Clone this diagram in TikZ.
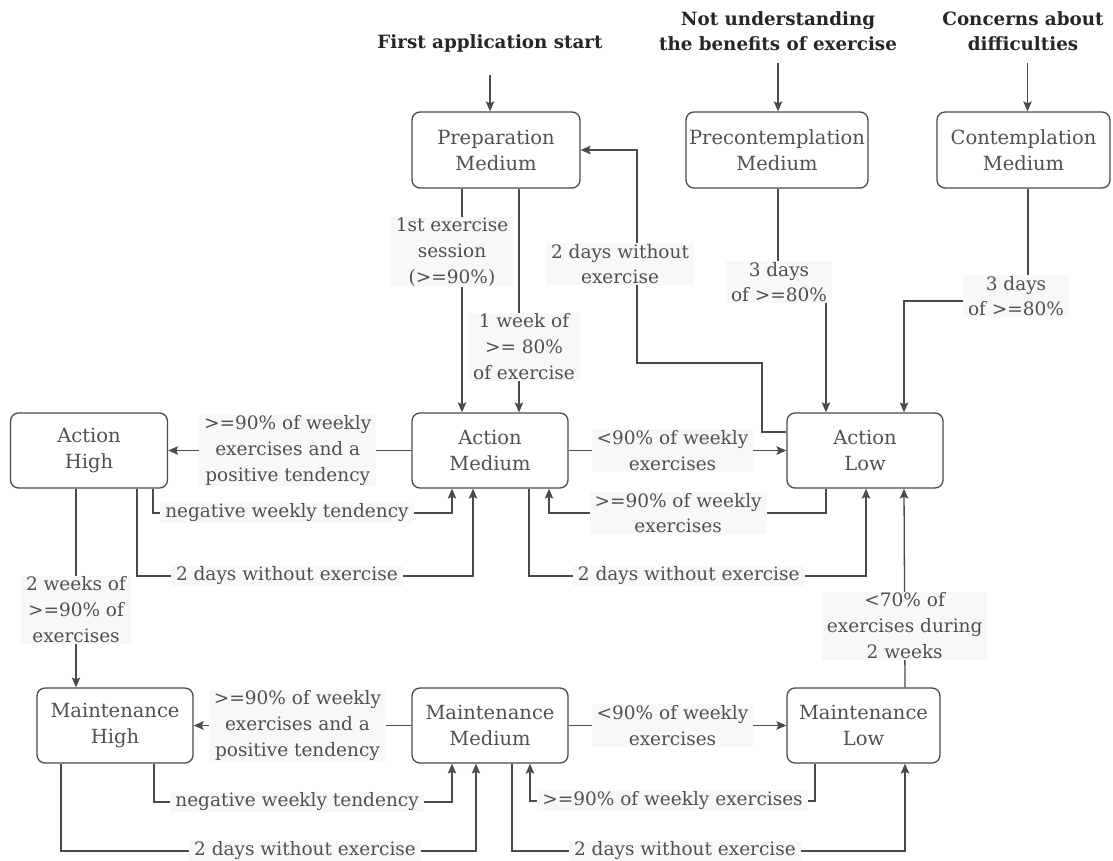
\documentclass[tikz,border=0pt]{standalone}
\usepackage{fontspec}
\setmainfont{DejaVu Serif}
\usetikzlibrary{arrows.meta}
\definecolor{linec}{HTML}{4A4A4A}
\definecolor{textc}{HTML}{505050}
\definecolor{lblbg}{HTML}{F8F8F8}
\newcommand{\bodyfont}{\fontsize{18.5}{25.8}\selectfont}
\newcommand{\boxfont}{\fontsize{19.5}{26}\selectfont}
\newcommand{\headfont}{\fontsize{18.3}{25}\selectfont\bfseries}
\tikzset{
  stage/.style={draw=linec, line width=1.3pt, rounded corners=8pt, align=center,
    text=textc, font=\boxfont, minimum height=76pt, inner sep=0pt},
  head/.style={align=center, text=black!85, font=\headfont, inner sep=0pt},
  lbl/.style={fill=lblbg, align=center, text=textc, font=\bodyfont, inner xsep=5pt, inner ysep=1pt},
  arr/.style={draw=linec, line width=1.3pt, -{Stealth[length=10pt,width=8.5pt,inset=2pt]}},
}
\begin{document}
\begin{tikzpicture}[x=1pt,y=-1pt]
\useasboundingbox (0,0) rectangle (1113,860);

% entry triggers
\node[head] (t1) at (490,43) {First application start};
\node[head] (t2) at (778,31.5) {Not understanding\\the benefits of exercise};
\node[head] (t3) at (1023,31.5) {Concerns about\\difficulties};

% stages
\node[stage, minimum width=168pt] (prep)   at (496,150)   {Preparation\\Medium};
\node[stage, minimum width=182pt] (precon) at (777,150)   {Precontemplation\\Medium};
\node[stage, minimum width=173pt] (contem) at (1023.5,150){Contemplation\\Medium};
\node[stage, minimum width=157pt, minimum height=75pt] (ah) at (89,450.5)  {Action\\High};
\node[stage, minimum width=156pt, minimum height=75pt] (am) at (490,450.5) {Action\\Medium};
\node[stage, minimum width=156pt, minimum height=75pt] (al) at (865,450.5) {Action\\Low};
\node[stage, minimum width=156pt, minimum height=75pt] (mh) at (115,725.5) {Maintenance\\High};
\node[stage, minimum width=156pt, minimum height=75pt] (mm) at (490,725.5) {Maintenance\\Medium};
\node[stage, minimum width=153pt, minimum height=75pt] (ml) at (863.5,725.5) {Maintenance\\Low};

% entry arrows
\draw[arr] ([xshift=-6pt]prep.north |- 0,75) -- ([xshift=-6pt]prep.north);
\draw[arr] ([xshift=1pt]precon.north |- 0,63) -- ([xshift=1pt]precon.north);
\draw[arr] ([xshift=4pt]contem.north |- 0,63) -- ([xshift=4pt]contem.north);

% from preparation
\draw[arr] ([xshift=-34pt]prep.south) -- node[lbl, pos=0.284, xshift=-10pt] {1st exercise\\session\\(>=90\%)} ([xshift=-28pt]am.north);
\draw[arr] ([xshift=23pt]prep.south) -- node[lbl, pos=0.707, xshift=5pt] {1 week of\\>= 80\%\\of exercise} ([xshift=29pt]am.north);

% back to preparation
\draw[arr] ([yshift=18.5pt]al.west) -- (762,432) -- (762,363) -- (637,363) |- node[lbl, pos=0.232, xshift=-17pt] {2 days without\\exercise} (prep.east);

% precontemplation / contemplation to action low
\draw[arr] ([xshift=1pt]precon.south) -- (778,282) node[lbl, xshift=1pt] {3 days\\of >=80\%} -| ([xshift=-39pt]al.north);
\draw[arr] ([xshift=4.5pt]contem.south) -- (1028,301) node[lbl, xshift=-12pt, yshift=5pt] {3 days\\of >=80\%} -| ([xshift=39pt]al.north);

% action row
\draw[arr] (am.west) -- node[lbl, xshift=-2pt] {>=90\% of weekly\\exercises and a\\positive tendency} (ah.east);
\draw[arr] ([xshift=64pt]ah.south) -- (153,513) -| node[lbl, pos=0.224] {negative weekly tendency} ([xshift=-38pt]am.south);
\draw[arr] ([xshift=48pt]ah.south) -- (137,576) -| node[lbl, pos=0.223] {2 days without exercise} ([xshift=-17pt]am.south);
\draw[arr] (am.east) -- node[lbl, xshift=-5pt] {<90\% of weekly\\exercises} (al.west);
\draw[arr] ([xshift=-39pt]al.south) -- (826,513) -| node[lbl, pos=0.267] {>=90\% of weekly\\exercises} ([xshift=59pt]am.south);
\draw[arr] ([xshift=39pt]am.south) -- (529,576) -| node[lbl, pos=0.237] {2 days without exercise} ([xshift=1pt]al.south);

% between rows
\draw[arr] ([xshift=-13pt]ah.south) -- node[lbl, pos=0.61] {2 weeks of\\>=90\% of\\exercises} ([xshift=-39pt]mh.north);
\draw[arr] ([xshift=41.5pt]ml.north) -- node[lbl, pos=0.31] {<70\% of\\exercises during\\2 weeks} ([xshift=39pt]al.south);

% maintenance row
\draw[arr] (mm.west) -- node[lbl, xshift=-5pt] {>=90\% of weekly\\exercises and a\\positive tendency} (mh.east);
\draw[arr] ([xshift=39pt]mh.south) -- (154,802) -| node[lbl, pos=0.24] {negative weekly tendency} ([xshift=-38pt]mm.south);
\draw[arr] ([xshift=-54pt]mh.south) -- (61,851) -| node[lbl, pos=0.294] {2 days without exercise} ([xshift=-14pt]mm.south);
\draw[arr] (mm.east) -- node[lbl, xshift=-5pt] {<90\% of weekly\\exercises} (ml.west);
\draw[arr] ([xshift=-48.5pt]ml.south) -- (815,801) -| node[lbl, pos=0.25] {>=90\% of weekly exercises} ([xshift=40pt]mm.south);
\draw[arr] ([xshift=22pt]mm.south) -- (512,851) -| node[lbl, pos=0.22] {2 days without exercise} ([xshift=41.5pt]ml.south);
\end{tikzpicture}
\end{document}
